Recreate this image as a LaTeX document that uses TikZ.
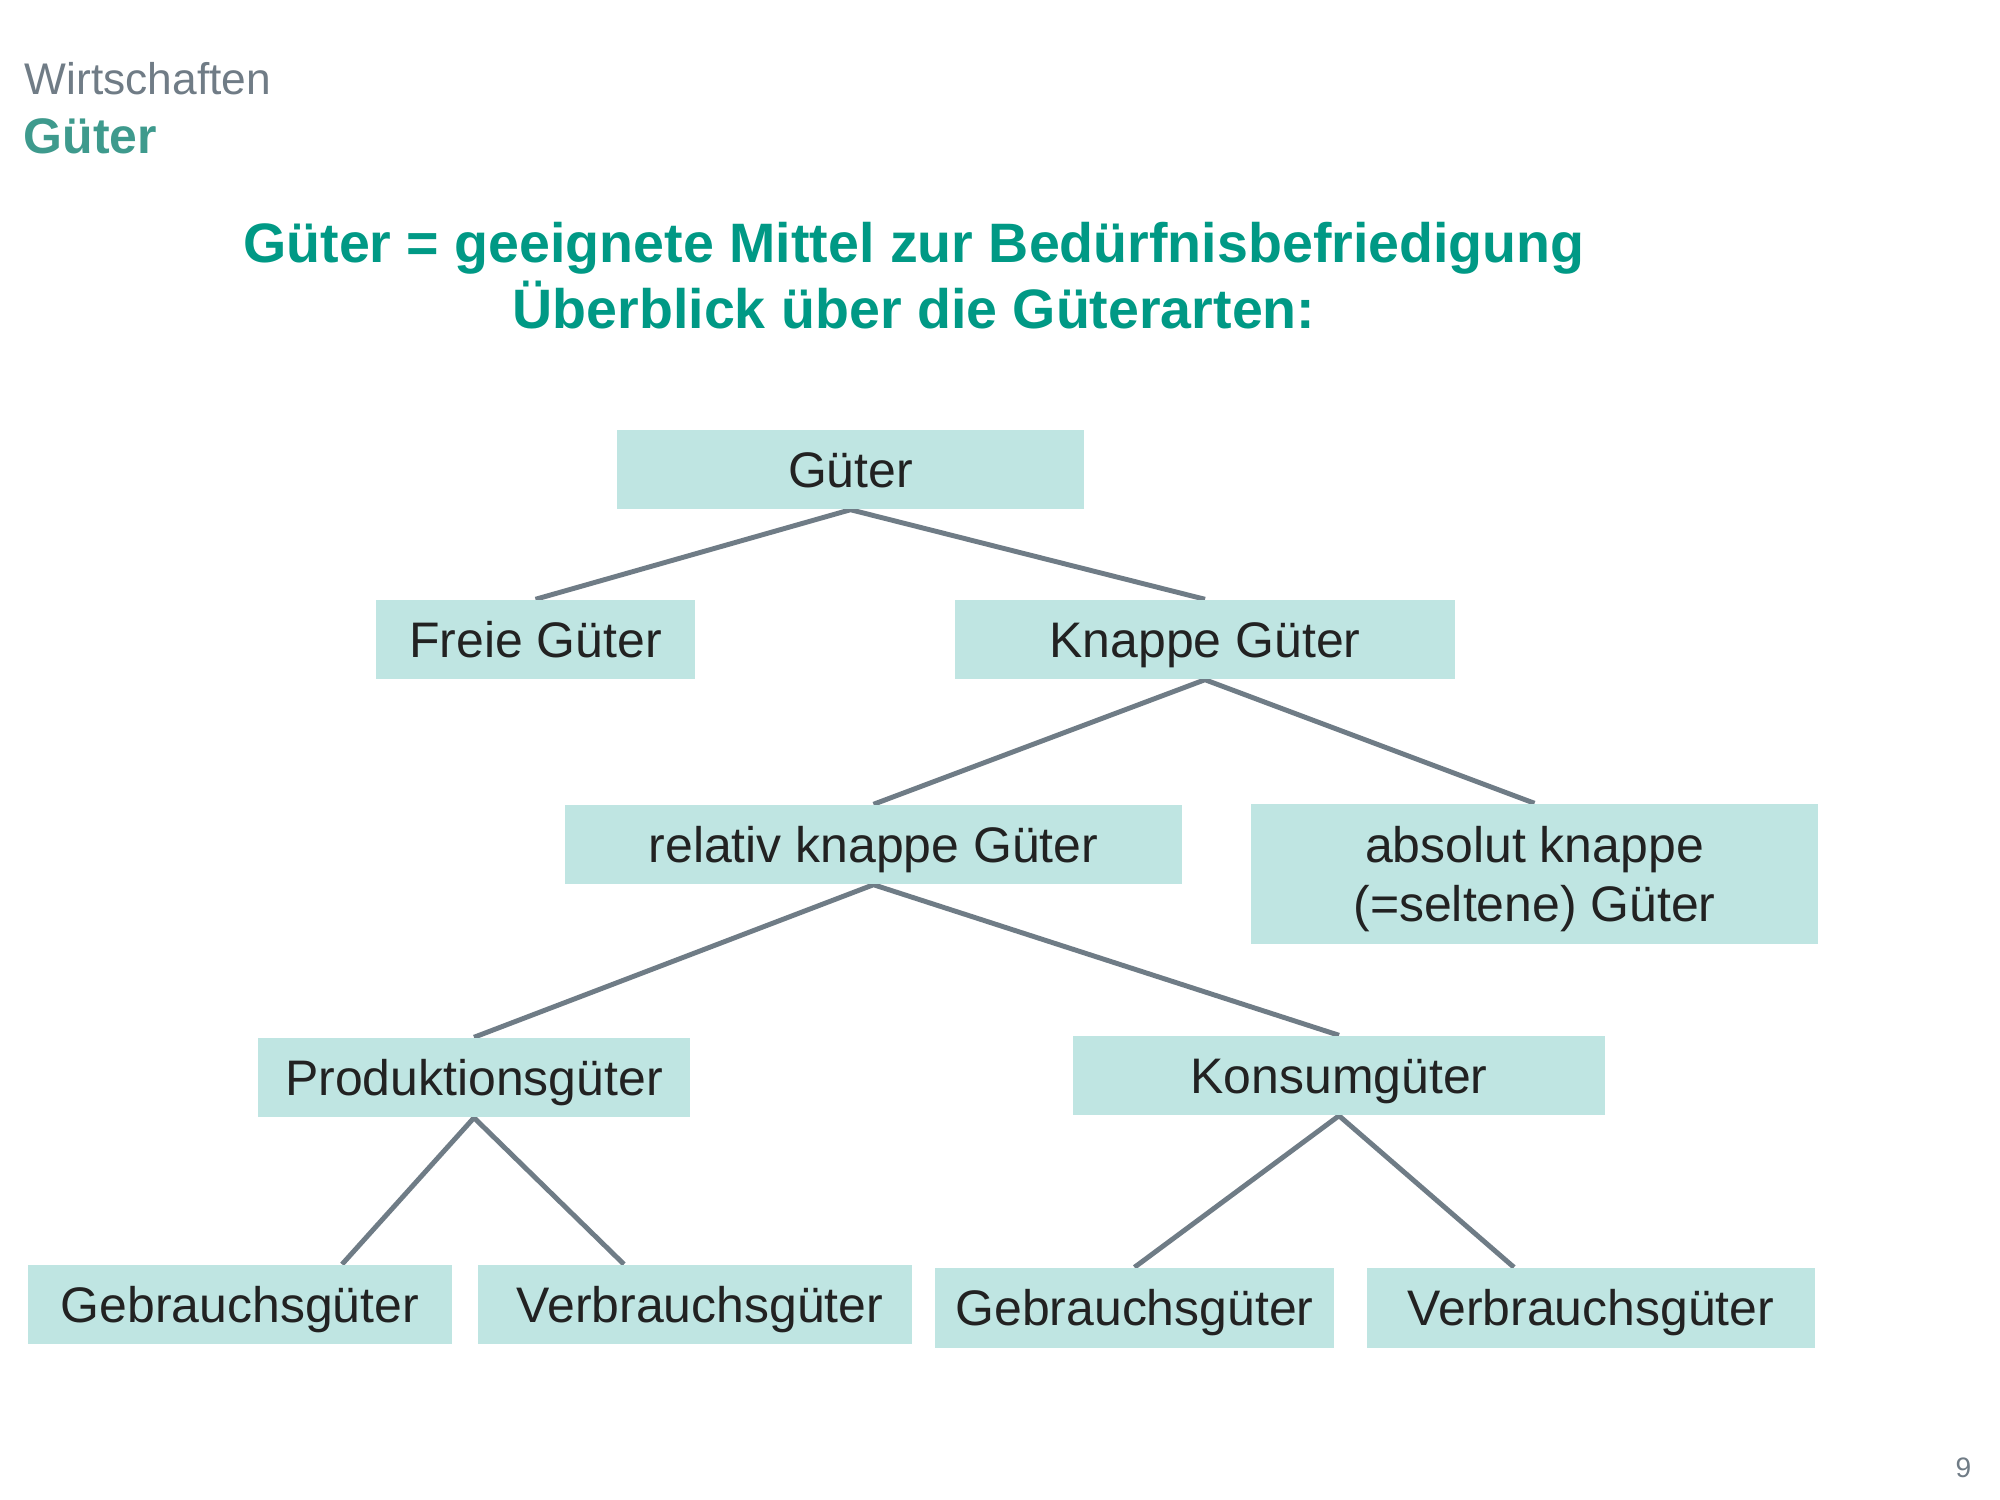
\documentclass[tikz,border=0pt]{standalone}
\usepackage{fontspec}
\setmainfont{Liberation Sans}
\usetikzlibrary{backgrounds}
\definecolor{boxfill}{RGB}{191,229,226}
\definecolor{textdark}{RGB}{34,34,34}
\definecolor{linegray}{RGB}{111,124,134}
\definecolor{headgray}{RGB}{112,124,134}
\definecolor{headteal}{RGB}{62,154,141}
\definecolor{titleteal}{RGB}{0,153,133}
\begin{document}
\begin{tikzpicture}[x=0.01cm,y=-0.01cm,
  box/.style={fill=boxfill, inner sep=0pt, text=textdark, font=\fontsize{14.2}{17}\selectfont},
  oneline/.style={text height=10.2pt, text depth=0pt, minimum height=0.79cm},
  conn/.style={draw=linegray, line width=1.4pt, line join=round}]
\useasboundingbox (0,0) rectangle (2000,1500);

% header
\node[anchor=base west, inner sep=0pt, text=headgray, font=\fontsize{12.6}{15}\selectfont] (hdr) at (24,95) {Wirtschaften};
\node[anchor=base west, inner sep=0pt, text=headteal, font=\fontsize{14.2}{17}\selectfont\bfseries] (hdr2) at (23,153) {Güter};

% title
\node[anchor=base, inner sep=0pt, text=titleteal, font=\fontsize{15.8}{19}\selectfont\bfseries] (t1) at (914,262) {Güter = geeignete Mittel zur Bedürfnisbefriedigung};
\node[anchor=base, inner sep=0pt, text=titleteal, font=\fontsize{15.8}{19}\selectfont\bfseries] (t2) at (914,328) {Überblick über die Güterarten:};

% boxes
\node[box, oneline, minimum width=4.67cm] (gueter) at (850.5,469.5) {Güter};
\node[box, oneline, minimum width=3.19cm] (freie) at (535.5,639.5) {Freie Güter};
\node[box, oneline, minimum width=5.00cm] (knappe) at (1205,639.5) {Knappe Güter};
\node[box, oneline, minimum width=6.17cm] (relativ) at (873.5,844.5) {relativ knappe Güter};
\node[box, minimum width=5.67cm, minimum height=1.40cm, align=center, text depth=0pt] (absolut) at (1534.5,874) {absolut knappe\\(=seltene) Güter};
\node[box, oneline, minimum width=4.32cm] (prod) at (474,1077.5) {Produktionsgüter};
\node[box, oneline, minimum width=5.32cm] (konsum) at (1339,1075.5) {Konsumgüter};
\node[box, oneline, minimum width=4.24cm] (g1) at (240,1304.5) {Gebrauchsgüter};
\node[box, oneline, minimum width=4.34cm] (v1) at (695,1304.5) {\hspace*{0.1cm}Verbrauchsgüter};
\node[box, oneline, minimum width=3.99cm, minimum height=0.80cm] (g2) at (1134.5,1308) {Gebrauchsgüter};
\node[box, oneline, minimum width=4.48cm, minimum height=0.80cm] (v2) at (1591,1308) {Verbrauchsgüter};

% page number
\node[anchor=base west, inner sep=0pt, text=headgray, font=\fontsize{8}{10}\selectfont] (pnum) at (1955,1477) {9};

\begin{pgfonlayer}{background}
  \fill[white] (0,0) rectangle (2000,1500);
  \draw[conn] (freie.north) -- (gueter.south) -- (knappe.north);
  \draw[conn] (relativ.north) -- (knappe.south) -- (absolut.north);
  \draw[conn] (prod.north) -- (relativ.south) -- (konsum.north);
  \draw[conn] ([xshift=1.02cm]g1.north) -- (prod.south) -- ([xshift=-0.71cm]v1.north);
  \draw[conn] (g2.north) -- (konsum.south) -- ([xshift=-0.77cm]v2.north);
\end{pgfonlayer}
\end{tikzpicture}
\end{document}
